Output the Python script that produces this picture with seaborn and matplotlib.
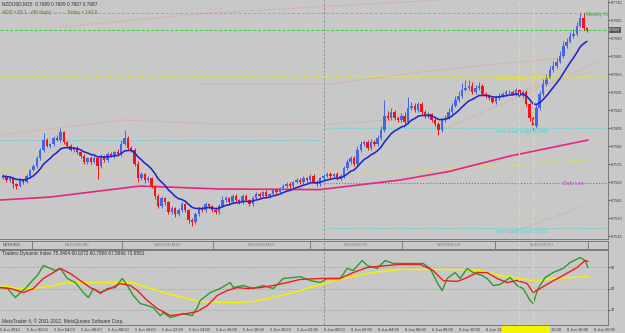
import numpy as np
import pandas as pd
import matplotlib
matplotlib.use("Agg")
import matplotlib.pyplot as plt
import seaborn as sns

# NZDUSD M15 closes (5 Jun 00:15 -> 6 Jun 19:30)
first_open = 0.75637
closes = [
    0.75653, 0.75620, 0.75637, 0.75587, 0.75570, 0.75620, 0.75603, 0.75653, 0.75703, 0.75737,
    0.75803, 0.75870, 0.75953, 0.75903, 0.75920, 0.75970, 0.75953, 0.76020, 0.75937, 0.75903,
    0.75870, 0.75887, 0.75853, 0.75820, 0.75770, 0.75803, 0.75770, 0.75803, 0.75737, 0.75820,
    0.75787, 0.75837, 0.75820, 0.75853, 0.75837, 0.75920, 0.75970, 0.75887, 0.75870, 0.75753,
    0.75637, 0.75670, 0.75620, 0.75637, 0.75570, 0.75487, 0.75403, 0.75470, 0.75437, 0.75353,
    0.75387, 0.75337, 0.75370, 0.75420, 0.75370, 0.75287, 0.75270, 0.75337, 0.75387, 0.75370,
    0.75420, 0.75403, 0.75370, 0.75353, 0.75403, 0.75453, 0.75470, 0.75437, 0.75487, 0.75453,
    0.75437, 0.75487, 0.75453, 0.75420, 0.75470, 0.75503, 0.75487, 0.75520, 0.75487, 0.75503,
    0.75537, 0.75520, 0.75553, 0.75570, 0.75587, 0.75570, 0.75603, 0.75620, 0.75603, 0.75637,
    0.75620, 0.75653, 0.75603, 0.75587, 0.75637, 0.75653, 0.75670, 0.75653, 0.75670, 0.75637,
    0.75653, 0.75720, 0.75770, 0.75803, 0.75753, 0.75870, 0.75920, 0.75937, 0.75887, 0.75937,
    0.75920, 0.75970, 0.76037, 0.76153, 0.76137, 0.76187, 0.76137, 0.76120, 0.76153, 0.76103,
    0.76220, 0.76237, 0.76203, 0.76253, 0.76187, 0.76153, 0.76170, 0.76120, 0.76087, 0.76037,
    0.76120, 0.76137, 0.76187, 0.76237, 0.76287, 0.76320, 0.76370, 0.76387, 0.76403, 0.76353,
    0.76387, 0.76403, 0.76337, 0.76320, 0.76303, 0.76270, 0.76303, 0.76320, 0.76337, 0.76353,
    0.76353, 0.76337, 0.76370, 0.76320, 0.76353, 0.76253, 0.76137, 0.76070, 0.76220, 0.76337,
    0.76420, 0.76470, 0.76537, 0.76570, 0.76603, 0.76653, 0.76737, 0.76770, 0.76820, 0.76837,
    0.76903, 0.76970, 0.76887, 0.76870,
]
# wick lengths above / below the body, in points (0.00001)
wick_up = [
    15, 10, 20, 12, 8, 18, 10, 15, 12, 20, 14, 16, 60, 14, 12, 18, 25, 30, 10, 12,
    14, 12, 16, 10, 18, 12, 20, 14, 10, 16, 12, 14, 18, 12, 22, 30, 67, 20, 14, 16,
    25, 14, 10, 16, 12, 10, 14, 18, 12, 10, 16, 12, 14, 20, 12, 10, 14, 16, 12, 18,
    14, 12, 10, 16, 18, 30, 14, 12, 20, 16, 12, 14, 18, 12, 16, 20, 14, 10, 18, 12,
    14, 16, 12, 18, 14, 20, 12, 16, 18, 14, 12, 16, 20, 14, 12, 18, 16, 14, 12, 16,
    14, 20, 25, 16, 18, 30, 24, 20, 16, 22, 18, 26, 30, 130, 40, 35, 20, 18, 24, 30,
    90, 30, 25, 20, 14, 18, 16, 12, 14, 16, 18, 24, 30, 28, 35, 40, 60, 70, 50, 30,
    25, 35, 18, 16, 14, 20, 18, 22, 16, 14, 18, 16, 20, 14, 18, 16, 12, 14, 30, 25,
    40, 30, 35, 40, 30, 45, 40, 35, 30, 40, 30, 40, 40, 12,
]
wick_dn = [
    12, 20, 14, 30, 25, 12, 18, 10, 14, 12, 16, 14, 18, 12, 14, 16, 12, 20, 14, 16,
    12, 18, 14, 16, 20, 14, 18, 12, 110, 16, 20, 14, 12, 16, 18, 14, 12, 20, 16, 18,
    30, 20, 25, 16, 20, 25, 20, 18, 22, 20, 16, 24, 18, 14, 20, 25, 30, 20, 16, 18,
    14, 20, 16, 18, 14, 12, 16, 20, 14, 18, 16, 14, 12, 18, 16, 14, 20, 12, 16, 14,
    12, 16, 14, 12, 18, 14, 16, 12, 14, 18, 16, 14, 12, 16, 18, 14, 12, 16, 14, 18,
    14, 16, 20, 14, 18, 16, 14, 20, 16, 14, 18, 16, 14, 20, 16, 14, 18, 16, 20, 14,
    16, 14, 18, 20, 16, 18, 14, 20, 16, 40, 14, 16, 12, 14, 12, 16, 14, 12, 16, 14,
    16, 14, 18, 16, 14, 12, 16, 14, 12, 16, 14, 12, 16, 14, 18, 20, 25, 50, 20, 14,
    16, 14, 12, 16, 14, 12, 16, 14, 12, 16, 14, 12, 16, 20,
]

# slow moving average (magenta), hours since 5 Jun 00:00
slow_ma_t = [0.03, 3.75, 10.4, 16.32, 23.73, 29.66, 33.25, 37.81, 43.58]
slow_ma_p = [0.75453, 0.75478, 0.7557, 0.75545, 0.7554, 0.7562, 0.7569, 0.7582, 0.75953]

# std-dev channel lines (salmon dotted)
chan_a_t = [4.47, 15.58, 32.62]
chan_a_p = [0.76895, 0.77012, 0.7712]
chan_b_t = [0.03, 9.14, 16.32, 24.47, 31.14]
chan_b_p = [0.75995, 0.7612, 0.76087, 0.76087, 0.76137]
chan_c_t = [14.84, 24.47, 31.14, 34.62, 41.51]
chan_c_p = [0.7642, 0.7642, 0.7652, 0.76562, 0.76637]
reg_mid_t = [32.84, 44.7]
reg_mid_p = [0.7604, 0.7662]
reg_up_t = [38.03, 43.51]
reg_up_p = [0.76345, 0.76512]
reg_low_t = [37.81, 43.51]
reg_low_p = [0.75178, 0.75412]
trend_y_t = [0.03, 29.66, 43.51]
trend_y_p = [0.75695, 0.75687, 0.75787]

# levels
weekly_hi = 0.77012
open_level = 0.7687
prev_weekly_high = 0.76487
prev_daily_high_d1 = 0.7595
prev_daily_high = 0.7605
prev_daily_low = 0.7522
daily_low = 0.75595
day_break = 24.0
vlines_t = [38.5, 39.5]

# Traders Dynamic Index
tdi_green_t = [0.03, 0.55, 1.14, 1.51, 1.88, 2.4, 2.77, 3.21, 3.58, 4.1,
               4.47, 4.99, 5.58, 6.18, 6.55, 6.92, 7.44, 7.95, 8.55, 9.06,
               9.44, 9.88, 10.4, 10.92, 11.36, 11.88, 12.1, 12.62, 13.14, 13.58,
               14.25, 14.62, 14.84, 15.58, 16.32, 17.06, 17.29, 18.03, 18.77, 19.51,
               20.25, 20.99, 21.73, 22.25, 22.99, 23.73, 24.25, 25.21, 25.73, 26.18,
               26.84, 27.21, 27.95, 28.55, 29.14, 29.88, 30.62, 31.36, 31.88, 32.4,
               32.77, 33.14, 33.73, 34.1, 34.62, 35.06, 35.73, 36.1, 36.55, 37.06,
               37.81, 38.32, 38.77, 39.29, 39.51, 39.88, 40.4, 40.99, 41.73, 42.25,
               42.99, 43.36, 43.58]
tdi_green = [50.8, 50, 42.4, 46.6, 50, 56.7, 60.9, 69.3, 67.6, 65.1,
             66.8, 58.4, 55, 46.6, 42.4, 50, 45.8, 50, 50.8, 58.4,
             52.5, 44.1, 37.4, 35.7, 34, 27.3, 29.8, 25.6, 27.3, 29,
             27.3, 34, 39.9, 46.6, 50, 55, 50.8, 52.5, 50, 52.5,
             50, 58.4, 59.2, 60, 56.7, 55, 58.4, 58.4, 66.8, 65.1,
             73.5, 69.3, 66.8, 73.5, 71, 71, 71, 71, 66.8, 55,
             48.3, 58.4, 63.4, 58.4, 66.8, 63.4, 60.9, 58.4, 52.5, 53.4,
             59.2, 52.5, 50, 39.9, 37.4, 50, 59.2, 63.4, 66.8, 71.8,
             76, 73.5, 67.6]
tdi_red_t = [0.03, 0.77, 1.73, 2.47, 3.21, 3.95, 4.47, 5.21, 5.95, 6.69,
             7.44, 8.18, 8.92, 9.66, 10.18, 10.92, 11.66, 12.62, 13.88, 14.62,
             15.36, 16.1, 16.84, 17.58, 18.32, 19.29, 20.25, 21.29, 22.25, 23.73,
             25.21, 26.18, 27.21, 28.69, 29.66, 31.14, 32.1, 32.84, 33.88, 34.62,
             35.36, 36.1, 36.84, 37.58, 38.32, 39.06, 39.51, 40.03, 40.77, 41.73,
             42.77, 43.36, 43.58]
tdi_red = [50.8, 50, 46.6, 50, 58.4, 63.4, 66.8, 62.6, 56.7, 50.8,
           46.6, 50, 54.2, 52.5, 48.3, 39.9, 33.2, 27.3, 29, 30.7,
           35.7, 44.1, 48.3, 50.8, 50, 50.8, 52.5, 55, 57.6, 58.4,
           58.4, 63.4, 67.6, 69.3, 70.2, 70.2, 65.1, 56.7, 55.9, 59.2,
           63.4, 63.4, 58.4, 55, 56.7, 54.2, 46.6, 50, 55, 60.9,
           67.6, 73.5, 72.7]
tdi_yellow_t = [0.03, 1.51, 2.47, 3.95, 4.99, 6.18, 8.18, 9.88, 10.92, 12.4,
                13.88, 14.84, 17.29, 18.77, 20.25, 21.73, 22.99, 23.73, 25.73, 27.66,
                29.66, 33.58, 35.58, 37.06, 38.55, 39.81, 40.99, 42.47, 43.58]
tdi_yellow = [52.5, 50, 50, 52.5, 55, 55, 55, 55, 50.8, 45.8,
              41.6, 39.1, 38.2, 39.1, 42.4, 46.6, 50.8, 53.4, 59.2, 63.4,
              66, 66, 65.1, 60.9, 58.4, 55.9, 58.4, 59.2, 60]
tdi_levels = [68, 50, 32]

time_labels = ["5 Jun 2012", "5 Jun 02:00", "5 Jun 04:00", "5 Jun 06:00", "5 Jun 08:00",
               "5 Jun 10:00", "5 Jun 12:00", "5 Jun 14:00", "5 Jun 16:00", "5 Jun 18:00",
               "5 Jun 20:00", "5 Jun 22:00", "6 Jun 00:00", "6 Jun 02:00", "6 Jun 04:00",
               "6 Jun 06:00", "6 Jun 08:00", "6 Jun 10:00", "6 Jun 12:00", "6 Jun 14:00",
               "6 Jun 16:00", "6 Jun 18:00", "6 Jun 20:00"]
strip_labels = ["NZDUSD,M5", "NZDUSD,M15", "NZDUSD,M30", "NZDUSD,H1", "NZDUSD,H4", "NZDUSD,D1"]

sns.set_style("white")
plt.rcParams['font.family'] = ['Liberation Sans', 'DejaVu Sans']

bg = '#c8c8c8'
W, H = 625, 333
fig = plt.figure(figsize=(W / 100, H / 100), dpi=100, facecolor=bg)
ax = fig.add_axes([0, 1 - 239 / H, 608 / W, 239 / H], facecolor=bg)
strip = fig.add_axes([0, 1 - 249 / H, 608 / W, 8 / H], facecolor=bg)
osc = fig.add_axes([0, 1 - 325 / H, 608 / W, 75 / H], facecolor=bg)

# candles
c = np.array(closes)
o = np.array([first_open] + closes[:-1])
t = 0.25 * np.arange(1, len(c) + 1)
hi = np.maximum(o, c) + np.array(wick_up) / 1e5
lo = np.minimum(o, c) - np.array(wick_dn) / 1e5
up = c >= o
col = np.where(up, '#4466e8', '#ff1010')
ax.vlines(t, lo, hi, colors=col, lw=0.7, zorder=4)
body = np.maximum(np.abs(c - o), 0.00004)
ax.bar(t, body, bottom=np.minimum(o, c), width=0.18, color=col, lw=0, zorder=5)

ema = pd.Series(c).ewm(span=11, adjust=False).mean()
sns.lineplot(x=t, y=ema.values, ax=ax, color='#2424c8', lw=1.15, zorder=6)
sns.lineplot(x=slow_ma_t, y=slow_ma_p, ax=ax, color='#e8257f', lw=1.2, zorder=3)

dot = (0, (1, 1.6))
salmon = '#e39a8a'
for xs, ys in [(chan_a_t, chan_a_p), (chan_b_t, chan_b_p), (chan_c_t, chan_c_p),
               (reg_mid_t, reg_mid_p), (reg_up_t, reg_up_p), (reg_low_t, reg_low_p)]:
    ax.plot(xs, ys, color=salmon, lw=0.8, ls=dot, zorder=2)
ax.plot(trend_y_t, trend_y_p, color='#f0f000', lw=0.8, ls=dot, zorder=2)

x0, x1 = 0.028, 45.06
ax.hlines(weekly_hi, x0, x1, color='#b0b43a', lw=0.7, ls=(0, (3, 2)), zorder=2)
ax.hlines(open_level, x0, x1, color='#3ccc3c', lw=0.7, ls=(0, (3, 2)), zorder=2)
ax.hlines(prev_weekly_high, x0, x1, color='#f0f000', lw=0.8, ls=dot, zorder=2)
ax.hlines(prev_daily_high_d1, x0, day_break, color='#40d8d8', lw=0.8, ls=dot, zorder=2)
ax.hlines([prev_daily_high, prev_daily_low], day_break, x1, color='#40d8d8', lw=0.8, ls=dot, zorder=2)
ax.hlines(daily_low, day_break, x1, color='#d040c0', lw=0.8, ls=dot, zorder=2)

for a in (ax, strip, osc):
    a.axvline(day_break, color='#8a8a8a', lw=0.6, ls=(0, (3, 2)), zorder=1)
    for v in vlines_t:
        a.axvline(v, color='#f0f000', lw=0.8, ls=(0, (3, 2)), zorder=7)
    a.set_xlim(x0, x1)

fs = 3.4
ax.text(41.73, daily_low - 0.00002, "Daily Low", color='#d040c0', fontsize=fs, va='center', zorder=8)
ax.text(43.4, weekly_hi - 0.0001, "Weekly Hi", color='#20b020', fontsize=fs, va='center', zorder=8)
ax.text(36.7, prev_weekly_high - 0.00018, "Prev (Weekly) High 0.7649", color='#f0f000', fontsize=fs, va='center', zorder=8)
ax.text(36.8, prev_daily_high - 0.0003, "Prev (Daily) High 0.7605", color='#40d8d8', fontsize=fs, va='center', zorder=8)
ax.text(36.8, prev_daily_low - 0.0003, "Prev (Daily) Low 0.7522", color='#40d8d8', fontsize=fs, va='center', zorder=8)
ax.text(0.004, 0.995, "NZDUSD,M15  0.7689 0.7689 0.7687 0.7687", transform=ax.transAxes,
        fontsize=fs, color='#303030', va='top')
ax.text(0.004, 0.946, "ADR = 83.1 - (40 days)  - - - -  Today = 142.0", transform=ax.transAxes,
        fontsize=fs, color='#6a6a30', va='center')

ax.set_ylim(0.7712 - 239 / 12000, 0.7712)
ax.yaxis.tick_right()
yt = np.arange(0.7515, 0.77101, 0.0015)
ax.set_yticks(yt)
ax.set_yticklabels([f"{v:.4f}" for v in yt])
ax.tick_params(axis='y', labelsize=2.7, length=1.5, pad=0.8, colors='#303030', width=0.5)
ax.set_xticks([])
ax.text(1.002, open_level, "0.7687", transform=ax.get_yaxis_transform(), fontsize=2.7,
        color='white', va='center', clip_on=False,
        bbox=dict(boxstyle='square,pad=0.15', fc='#5a5a5a', ec='none'))

# small multi-timeframe strip
seps = [32, 122, 213, 310, 402, 495, 588]
sep_t = [(s + 0.375) / 13.5 for s in seps]
for s in sep_t:
    strip.axvline(s, color='#707070', lw=0.6)
for i, lab in enumerate(strip_labels):
    strip.text((sep_t[i] + sep_t[i + 1]) / 2, 0.5, lab, fontsize=3.0, color='#7c7c90',
               ha='center', va='center')
strip.text(0.005, 0.5, "NZDUSD,", transform=strip.transAxes, fontsize=3.0, color='#404040', va='center')
strip.set_xticks([]); strip.set_yticks([])

# Traders Dynamic Index
for lv in tdi_levels:
    osc.axhline(lv, color='#8c8c8c', lw=0.6, ls=(0, (1, 2)), zorder=1)
sns.lineplot(x=tdi_yellow_t, y=tdi_yellow, ax=osc, color='#f2f200', lw=1.1, zorder=3)
sns.lineplot(x=tdi_green_t, y=tdi_green, ax=osc, color='#2e9a2e', lw=1.0, zorder=4)
sns.lineplot(x=tdi_red_t, y=tdi_red, ax=osc, color='#f01c1c', lw=1.0, zorder=5)
osc.set_ylim(19.4, 82.3)
osc.yaxis.tick_right()
osc.set_yticks(tdi_levels)
osc.set_yticklabels([str(v) for v in tdi_levels])
osc.tick_params(axis='y', labelsize=2.7, length=1.5, pad=0.8, colors='#303030', width=0.5)
osc.set_xticks(np.arange(0, 45, 2))
osc.set_xticklabels(time_labels)
osc.tick_params(axis='x', labelsize=2.9, length=1.5, pad=0.8, colors='#303030', width=0.5)
for lab in osc.get_xticklabels():
    lab.set_ha('left')
osc.text(0.004, 0.985, "Traders Dynamic Index 75.3494 60.0272 60.7958 67.5866 73.6581",
         transform=osc.transAxes, fontsize=fs, color='#303030', va='top')
osc.text(0.004, 0.02, "MetaTrader 4, \u00a9 2001-2012, MetaQuotes Software Corp.",
         transform=osc.transAxes, fontsize=fs, color='#303030', va='bottom')

for a in (ax, strip, osc):
    for side, sp in a.spines.items():
        sp.set_color('#6e6e6e')
        sp.set_linewidth(0.6)
        sp.set_visible(side in ('right', 'bottom', 'top'))
ax.spines['top'].set_visible(False)

fig.patches.append(plt.Rectangle((502 / W, 0), 48 / W, 7 / H, transform=fig.transFigure,
                                 fc='#f4f400', ec='none', zorder=10))

fig.savefig('out.png', dpi=100, facecolor=bg)
